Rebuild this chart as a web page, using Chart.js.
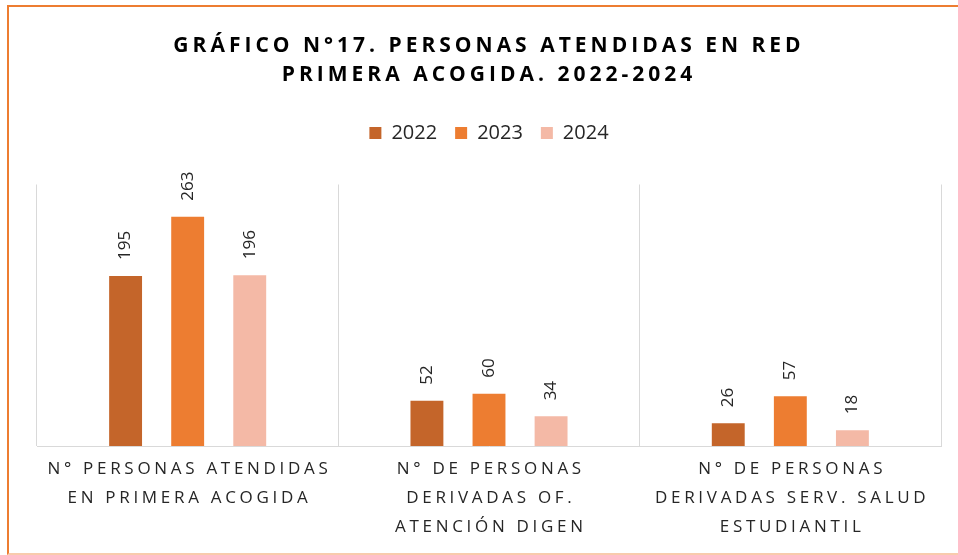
<!DOCTYPE html>
<html>
<head>
<meta charset="utf-8">
<script src="https://cdn.jsdelivr.net/npm/chart.js@4.4.1/dist/chart.umd.min.js"></script>
<style>
  html, body { margin: 0; padding: 0; background: #fff; }
  #wrap { position: relative; width: 958px; height: 555px; overflow: hidden; }
  #frame {
    position: absolute; left: 7px; top: 5px; width: 980px; height: 546px;
    border-top: 2px solid #ED7D31; border-left: 2px solid #ED7D31;
    border-bottom: 2px solid #F8CBAD; pointer-events: none;
  }
</style>
</head>
<body>
<div id="wrap">
  <canvas id="myChart" width="958" height="555"></canvas>
  <div id="frame"></div>
</div>
<script>
const titleLines = ["GRÁFICO N°17. PERSONAS ATENDIDAS EN RED", "PRIMERA ACOGIDA. 2022-2024"];
const categories = [
  ["N° PERSONAS ATENDIDAS", "EN PRIMERA ACOGIDA"],
  ["N° DE PERSONAS", "DERIVADAS OF.", "ATENCIÓN DIGEN"],
  ["N° DE PERSONAS", "DERIVADAS SERV. SALUD", "ESTUDIANTIL"],
];
const years = ["2022", "2023", "2024"];
const values2022 = [195, 52, 26];
const values2023 = [263, 60, 57];
const values2024 = [196, 34, 18];
const colors = ["#C4652A", "#ED7D31", "#F4B9A6"];

// title, category labels and value labels drawn by hand (letter spacing, rotation)
const textPlugin = {
  id: "texts",
  afterDraw(chart) {
    const ctx = chart.ctx;
    const xs = chart.scales.x;
    ctx.save();

    ctx.fillStyle = "#000";
    ctx.font = "bold 21px 'Open Sans'";
    ctx.textAlign = "center";
    ctx.textBaseline = "middle";
    ctx.letterSpacing = "4px";
    titleLines.forEach((t, i) => ctx.fillText(t, 487 + 2, 46 + i * 29));

    ctx.fillStyle = "#262626";
    ctx.font = "17px 'Open Sans'";
    ctx.letterSpacing = "3.7px";
    categories.forEach((lines, i) => {
      const x = xs.getPixelForValue(i);
      lines.forEach((t, j) => ctx.fillText(t, x + 1.85, chart.chartArea.bottom + 23 + j * 29));
    });

    ctx.letterSpacing = "0px";
    ctx.font = "17px 'Open Sans'";
    ctx.fillStyle = "#262626";
    ctx.textAlign = "left";
    chart.data.datasets.forEach((ds, di) => {
      chart.getDatasetMeta(di).data.forEach((bar, i) => {
        ctx.save();
        ctx.translate(bar.x, bar.y - 16);
        ctx.rotate(-Math.PI / 2);
        ctx.fillText(String(ds.data[i]), 0, 0);
        ctx.restore();
      });
    });
    ctx.restore();
  },
};

const ctx = document.getElementById("myChart");

const chart = new Chart(ctx, {
  type: "bar",
  data: {
    labels: categories,
    datasets: years.map((y, i) => ({
      label: y,
      data: [values2022, values2023, values2024][i],
      backgroundColor: colors[i],
      categoryPercentage: 0.618,
      barPercentage: 0.53,
    })),
  },
  options: {
    responsive: false,
    animation: false,
    layout: { padding: { top: 105, left: 37, right: 17, bottom: 109 } },
    plugins: {
      tooltip: { enabled: false },
      legend: {
        position: "top",
        labels: {
          boxWidth: 12,
          boxHeight: 12,
          padding: 18,
          color: "#262626",
          font: { family: "'Open Sans'", size: 20 },
        },
      },
      subtitle: {
        display: true,
        text: "",
        weight: 500,
        font: { size: 10, lineHeight: 1 },
        padding: { top: 0, bottom: 21.5 },
      },
    },
    scales: {
      x: {
        offset: true,
        grid: { display: true, offset: true, color: "#D9D9D9", drawTicks: false },
        border: { display: true, color: "#D9D9D9", width: 1 },
        ticks: { display: false },
      },
      y: {
        display: false,
        min: 0,
        max: 300,
      },
    },
  },
  plugins: [textPlugin],
});
</script>
</body>
</html>
